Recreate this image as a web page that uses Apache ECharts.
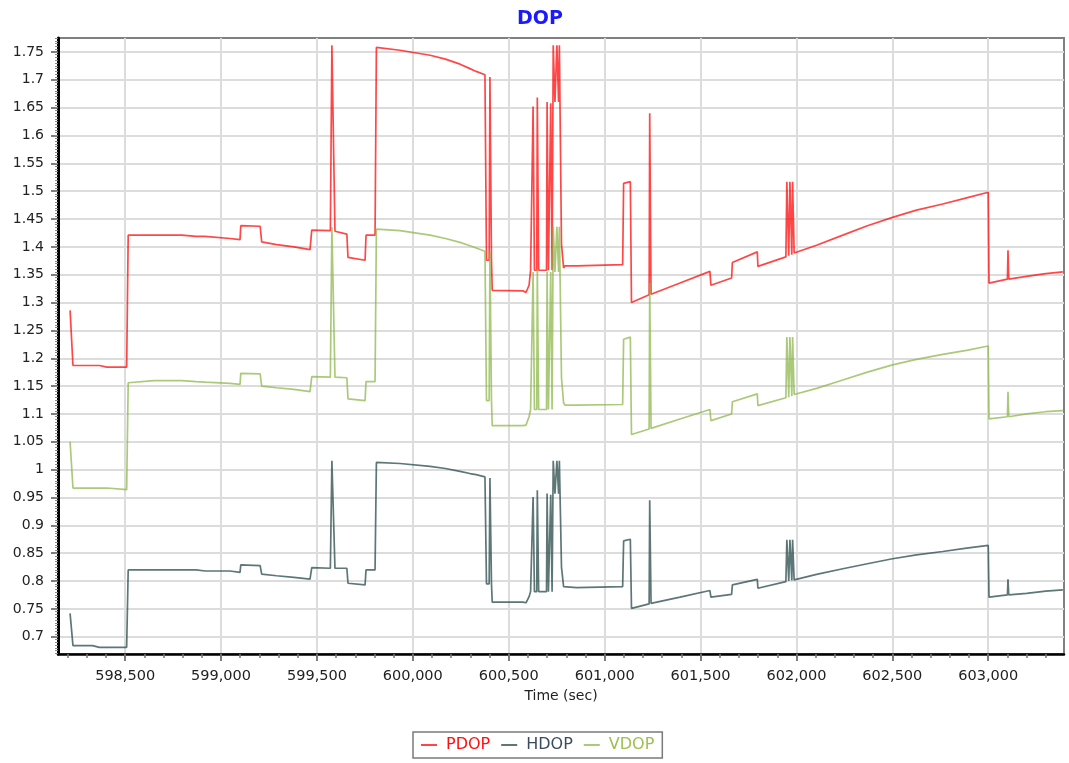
<!DOCTYPE html>
<html>
<head>
<meta charset="utf-8">
<script src="https://cdn.jsdelivr.net/npm/echarts@6/dist/echarts.min.js"></script>
<style>
html,body{margin:0;padding:0;background:#fff;}
#chart{width:1069px;height:763px;}
</style>
</head>
<body>
<div id="chart"></div>
<script>
// ---- data ----
const seriesNames = ['PDOP', 'HDOP', 'VDOP'];
const xTickValues = [598500, 599000, 599500, 600000, 600500, 601000, 601500, 602000, 602500, 603000];
const yTickValues = [0.7, 0.75, 0.8, 0.85, 0.9, 0.95, 1, 1.05, 1.1, 1.15, 1.2, 1.25, 1.3, 1.35, 1.4, 1.45, 1.5, 1.55, 1.6, 1.65, 1.7, 1.75];

const timeSec = [
  598213, 598222, 598228, 598330, 598334, 598366, 598370, 598405, 598410, 598508,
  598516, 598650, 598795, 598800, 598870, 598875, 598917, 598922, 599047, 599055,
  599099, 599103, 599204, 599212, 599290, 599380, 599464, 599473, 599570, 599578,
  599586, 599594, 599656, 599662, 599751, 599756, 599803, 599810, 599933, 600090,
  600170, 600246, 600298, 600330, 600376, 600384, 600398, 600402, 600406, 600410,
  600414, 600574, 600590, 600606, 600614, 600624, 600627, 600631, 600634, 600646,
  600649, 600653, 600656, 600697, 600700, 600704, 600707, 600716, 600719, 600722,
  600726, 600729, 600732, 600738, 600741, 600748, 600751, 600757, 600760, 600764,
  600772, 600775, 600782, 600786, 600793, 600854, 600860, 601094, 601099, 601134,
  601140, 601232, 601235, 601239, 601242, 601393, 601549, 601554, 601662, 601666,
  601796, 601799, 601945, 601950, 601956, 601960, 601966, 601972, 601976, 601980,
  601984, 601988, 602105, 602242, 602370, 602501, 602626, 602763, 602887, 603000,
  603004, 603100, 603103, 603107, 603200, 603300, 603389
];

const pdop = [
  1.286, 1.284, 1.187, 1.187, 1.187, 1.187, 1.184, 1.184, 1.184, 1.184,
  1.421, 1.421, 1.421, 1.419, 1.419, 1.419, 1.419, 1.417, 1.415, 1.413,
  1.413, 1.438, 1.437, 1.409, 1.404, 1.400, 1.395, 1.430, 1.429, 1.762,
  1.762, 1.428, 1.423, 1.381, 1.376, 1.421, 1.421, 1.758, 1.753, 1.744,
  1.737, 1.728, 1.720, 1.715, 1.709, 1.376, 1.376, 1.705, 1.705, 1.376,
  1.322, 1.321, 1.318, 1.331, 1.358, 1.358, 1.652, 1.652, 1.358, 1.358,
  1.668, 1.668, 1.358, 1.358, 1.660, 1.660, 1.358, 1.358, 1.658, 1.658,
  1.358, 1.358, 1.762, 1.762, 1.660, 1.660, 1.762, 1.762, 1.660, 1.762,
  1.762, 1.405, 1.403, 1.362, 1.366, 1.366, 1.368, 1.368, 1.514, 1.517,
  1.300, 1.314, 1.640, 1.640, 1.315, 1.335, 1.356, 1.331, 1.344, 1.372,
  1.391, 1.365, 1.382, 1.517, 1.517, 1.384, 1.517, 1.517, 1.386, 1.517,
  1.517, 1.389, 1.403, 1.421, 1.438, 1.453, 1.466, 1.477, 1.488, 1.498,
  1.335, 1.342, 1.394, 1.342, 1.347, 1.352, 1.355
];

const hdop = [
  0.742, 0.741, 0.684, 0.684, 0.681, 0.681, 0.681, 0.681, 0.681, 0.681,
  0.820, 0.820, 0.820, 0.820, 0.820, 0.818, 0.818, 0.818, 0.818, 0.8155,
  0.8155, 0.829, 0.8275, 0.8125, 0.8095, 0.8065, 0.8035, 0.824, 0.823, 1.016,
  1.016, 0.823, 0.823, 0.796, 0.793, 0.820, 0.820, 1.013, 1.011, 1.006,
  1.002, 0.997, 0.993, 0.991, 0.987, 0.795, 0.795, 0.985, 0.985, 0.795,
  0.762, 0.762, 0.761, 0.772, 0.781, 0.781, 0.951, 0.951, 0.781, 0.781,
  0.963, 0.963, 0.781, 0.781, 0.957, 0.957, 0.781, 0.781, 0.955, 0.955,
  0.781, 0.781, 1.016, 1.016, 0.957, 0.957, 1.016, 1.016, 0.957, 1.016,
  1.016, 0.825, 0.825, 0.790, 0.788, 0.788, 0.790, 0.790, 0.872, 0.875,
  0.751, 0.759, 0.945, 0.945, 0.760, 0.771, 0.783, 0.771, 0.776, 0.793,
  0.803, 0.787, 0.799, 0.874, 0.874, 0.800, 0.874, 0.874, 0.801, 0.874,
  0.874, 0.802, 0.812, 0.822, 0.831, 0.840, 0.847, 0.853, 0.859, 0.864,
  0.771, 0.775, 0.803, 0.775, 0.778, 0.782, 0.784
];

const vdop = [
  1.050, 1.049, 0.967, 0.967, 0.967, 0.967, 0.967, 0.967, 0.964, 0.964,
  1.156, 1.160, 1.160, 1.158, 1.158, 1.157, 1.157, 1.156, 1.155, 1.153,
  1.153, 1.173, 1.172, 1.150, 1.147, 1.144, 1.140, 1.167, 1.166, 1.435,
  1.435, 1.166, 1.165, 1.127, 1.124, 1.158, 1.158, 1.432, 1.429, 1.421,
  1.415, 1.408, 1.402, 1.398, 1.392, 1.124, 1.124, 1.391, 1.391, 1.124,
  1.079, 1.079, 1.080, 1.095, 1.108, 1.108, 1.355, 1.355, 1.108, 1.108,
  1.360, 1.360, 1.108, 1.108, 1.355, 1.355, 1.108, 1.108, 1.355, 1.355,
  1.108, 1.108, 1.436, 1.436, 1.355, 1.355, 1.436, 1.436, 1.355, 1.436,
  1.436, 1.165, 1.165, 1.120, 1.116, 1.116, 1.117, 1.117, 1.234, 1.238,
  1.063, 1.073, 1.335, 1.335, 1.074, 1.091, 1.108, 1.088, 1.100, 1.122,
  1.136, 1.115, 1.129, 1.238, 1.238, 1.130, 1.238, 1.238, 1.132, 1.238,
  1.238, 1.135, 1.146, 1.161, 1.175, 1.188, 1.198, 1.207, 1.214, 1.222,
  1.091, 1.095, 1.140, 1.095, 1.100, 1.104, 1.106
];

// minor tick positions (axis decoration only)
const xMinorTicks = [];
for (let v = 598200; v <= 603300; v += 100) xMinorTicks.push(v);
const yMinorTicks = [];
for (let i = 134; i <= 355; i++) yMinorTicks.push(Math.round(i * 5) / 1000);

const X_MIN = 598150, X_MAX = 603395, Y_MIN = 0.669, Y_MAX = 1.775;
const colors = {PDOP: '#ff0000', HDOP: '#2f4f4f', VDOP: '#8ab545'};
const textColors = {PDOP: '#ff1010', HDOP: '#3c4c5c', VDOP: '#9cc050'};
const values = {PDOP: pdop, HDOP: hdop, VDOP: vdop};
const opac = {PDOP: 0.72, HDOP: 0.78, VDOP: 0.72};

const chart = echarts.init(document.getElementById('chart'), null, {renderer: 'canvas'});
const font = 'DejaVu Sans';

chart.setOption({
  animation: false,
  backgroundColor: '#ffffff',
  title: {
    text: 'DOP',
    left: 512, top: 5,
    textStyle: {color: '#1a1aff', fontSize: 19, fontWeight: 'bold', fontFamily: font}
  },
  legend: {
    top: 732, left: 413,
    padding: [5, 8, 5, 8],
    borderColor: '#7a7a7a', borderWidth: 1.5,
    itemGap: 11, itemWidth: 16, itemHeight: 2,
    icon: 'rect',
    textStyle: {fontFamily: font, fontSize: 16, padding: [0, 0, 0, 4]},
    data: seriesNames.map(n => ({name: n, textStyle: {color: textColors[n]}}))
  },
  grid: {
    left: 58, right: 5, top: 38, bottom: 109,
    containLabel: false, outerBoundsMode: 'none',
    show: true, borderColor: '#808080', borderWidth: 2, backgroundColor: 'transparent'
  },
  xAxis: [{
    type: 'value', min: X_MIN, max: X_MAX, position: 'bottom',
    name: 'Time (sec)', nameLocation: 'middle', nameGap: 32,
    nameTextStyle: {fontFamily: font, fontSize: 14, color: '#222'},
    axisLine: {show: true, onZero: false, lineStyle: {color: '#000', width: 2.5}},
    axisTick: {show: true, customValues: xTickValues, length: 7, lineStyle: {color: '#555', width: 1.5}},
    axisLabel: {customValues: xTickValues, margin: 15, fontFamily: font, fontSize: 14.5, color: '#222',
      formatter: v => Math.round(v).toLocaleString('en-US')},
    splitLine: {show: true, lineStyle: {color: '#dcdcdc', width: 2}}
  }, {
    type: 'value', min: X_MIN, max: X_MAX, position: 'bottom', offset: 0,
    axisLine: {show: false, onZero: false},
    axisTick: {show: true, customValues: xMinorTicks, length: 4, lineStyle: {color: '#777', width: 1.5}},
    axisLabel: {show: false},
    splitLine: {show: false}
  }],
  yAxis: [{
    type: 'value', min: Y_MIN, max: Y_MAX, position: 'left',
    axisLine: {show: true, onZero: false, lineStyle: {color: '#000', width: 3}},
    axisTick: {show: true, customValues: yTickValues, length: 7, lineStyle: {color: '#555', width: 1.5}},
    axisLabel: {customValues: yTickValues, margin: 14, fontFamily: font, fontSize: 14, color: '#222',
      formatter: v => String(parseFloat(v.toFixed(3)))},
    splitLine: {show: true, lineStyle: {color: '#dcdcdc', width: 2}}
  }, {
    type: 'value', min: Y_MIN, max: Y_MAX, position: 'left', offset: 0,
    axisLine: {show: false, onZero: false},
    axisTick: {show: true, customValues: yMinorTicks, length: 3, lineStyle: {color: '#888', width: 1}},
    axisLabel: {show: false},
    splitLine: {show: false}
  }],
  series: seriesNames.map(n => ({
    name: n, type: 'line', xAxisIndex: 0, yAxisIndex: 0,
    showSymbol: false, symbol: 'none', sampling: null,
    itemStyle: {color: colors[n], opacity: opac[n]},
    lineStyle: {color: colors[n], width: 1.7, opacity: opac[n]},
    data: timeSec.map((t, i) => [t, values[n][i]])
  }))
});
</script>
</body>
</html>
